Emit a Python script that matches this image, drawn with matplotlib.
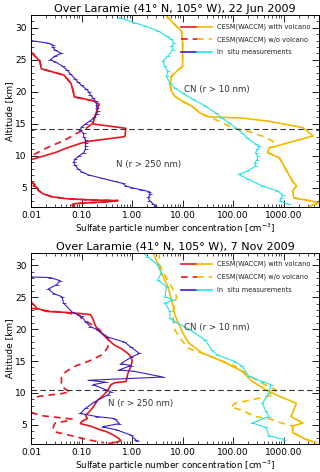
import numpy as np
import matplotlib
matplotlib.use('Agg')
import matplotlib.pyplot as plt
from matplotlib.ticker import LogLocator, MultipleLocator, FixedLocator, NullFormatter

plt.rcParams['font.family'] = ['DejaVu Sans']

RED = '#e8141e'
GOLD = '#f5b800'
BLUE = '#3a1fc8'
CYAN = '#22e3e8'

# ---- 22 Jun 2009 ----
jun_n_obs_alt = [28.0, 27.6, 27.3, 27.0, 26.5, 26.0, 25.6, 25.0, 24.7, 24.0, 23.4, 22.8, 22.0, 21.5, 21.0,
                 20.5, 20.0, 19.5, 19.0, 18.5, 18.0, 17.5, 17.0, 16.5, 16.0, 15.5, 15.0, 14.5, 14.0, 13.5,
                 13.0, 12.5, 12.0, 11.5, 11.0, 10.5, 10.0, 9.5, 9.0, 8.5, 8.0, 7.5, 7.0, 6.5, 6.0, 5.7,
                 5.3, 5.0, 4.7, 4.4, 4.0, 3.5, 3.0, 2.5, 2.2]
jun_n_obs = [0.010, 0.022, 0.027, 0.027, 0.030, 0.040, 0.030, 0.024, 0.030, 0.042, 0.052, 0.060, 0.075, 0.085,
             0.10, 0.12, 0.14, 0.15, 0.17, 0.19, 0.20, 0.20, 0.21, 0.20, 0.18, 0.15, 0.12, 0.10, 0.095, 0.11,
             0.11, 0.12, 0.12, 0.12, 0.12, 0.11, 0.09, 0.075, 0.07, 0.075, 0.085, 0.10, 0.14, 0.25, 0.45,
             0.65, 0.75, 1.0, 1.5, 2.2, 2.3, 2.1, 2.2, 2.6, 2.9]

jun_n_vol_alt = [26.2, 25.3, 24.8, 23.6, 23.0, 22.6, 21.3, 20.2, 19.2, 18.6, 18.1, 17.5, 16.5, 15.2, 15.0,
                 14.3, 13.0, 12.3, 12.0, 11.2, 10.5, 9.4, np.nan,
                 5.9, 5.5, 5.3, 5.1, 4.6, 4.1, 3.6, 3.3, 3.1, 3.0, 2.8, 2.6, 2.5, 2.3, 2.1]
jun_n_vol = [0.010, 0.013, 0.015, 0.016, 0.030, 0.045, 0.062, 0.068, 0.072, 0.17, 0.22, 0.21, 0.19, 0.17,
             0.16, 0.75, 0.72, 0.15, 0.10, 0.05, 0.03, 0.010, np.nan,
             0.010, 0.012, 0.011, 0.013, 0.014, 0.017, 0.026, 0.05, 0.15, 0.52, 0.30, 0.10, 0.07, 0.065, 0.07]

jun_n_novol_alt = [26.2, 25.3, 24.8, 23.6, 23.0, 22.6, 21.3, 20.2, 19.2, 18.6, 18.1, 17.5, 16.5, 15.2, 15.0,
                   14.2, 13.5, 12.4, 11.2, 10.3, 9.8, np.nan,
                   5.9, 5.5, 5.3, 5.1, 4.6, 4.1, 3.6, 3.3, 3.1, 3.0, 2.8, 2.6, 2.5, 2.3, 2.1]
jun_n_novol = [0.010, 0.013, 0.015, 0.016, 0.030, 0.045, 0.062, 0.068, 0.072, 0.17, 0.22, 0.21, 0.19, 0.17,
               0.16, 0.12, 0.08, 0.045, 0.02, 0.012, 0.010, np.nan,
               0.010, 0.012, 0.011, 0.013, 0.014, 0.017, 0.026, 0.05, 0.15, 0.52, 0.30, 0.10, 0.07, 0.065, 0.07]

jun_cn_obs_alt = [31.6, 30.8, 30.3, 29.5, 28.7, 28.2, 27.6, 27.1, 26.6, 25.6, 24.8, 24.0, 23.2, 22.4, 21.4,
                  20.6, 19.8, 18.8, 17.8, 16.7, 15.9, 15.2, 14.4, 13.6, 12.8, 11.8, 11.5, 11.0, 10.5, 9.9,
                  9.4, 8.9, 8.4, 7.6, 7.1, 6.3, 5.3, 4.5, 3.9, 3.4, 2.9, 2.4]
jun_cn_obs = [0.56, 1.1, 1.8, 3.3, 4.8, 6.0, 6.8, 6.0, 6.5, 5.1, 4.1, 4.4, 5.1, 4.8, 5.6,
              7.0, 10, 16, 28, 45, 60, 81, 110, 150, 190, 280, 330, 300, 280, 310,
              300, 270, 280, 190, 130, 200, 380, 750, 950, 900, 850, 1300]

jun_cn_vol_alt = [32.1, 31.3, 30.5, 29.5, 27.7, 24.0, 23.2, 22.4, 21.1, 20.1, 19.3, 18.5, 17.8, 16.7, 16.1,
                  15.9, 15.4, 14.4, 13.1, 11.5, 11.25, 10.5, 9.7, 7.9, 6.0, 5.3, 4.5, 3.4, 2.9, 2.6, 2.1]
jun_cn_vol = [4.5, 5.6, 7.0, 9.5, 10, 10, 7.6, 6.0, 5.6, 6.0, 7.0, 10, 15, 22, 32,
              150, 510, 2400, 3800, 700, 510, 480, 820, 1100, 1500, 1800, 1500, 1600, 3800, 4800, 3200]

jun_cn_novol_alt = [32.1, 31.3, 30.5, 29.5, 27.7, 24.0, 23.2, 22.4, 21.1, 20.1, 19.3, 18.5, 17.8, 16.7, 16.1,
                    15.5, 14.8, 14.2, 13.6, 13.0, 12.3, 11.5, 11.25, 10.5, 9.7, 7.9, 7.0, 6.0, 5.3, 4.5,
                    3.4, 2.9, 2.6, 2.1]
jun_cn_novol = [4.5, 5.6, 7.0, 9.5, 10, 10, 7.6, 6.0, 5.6, 6.0, 7.0, 10, 15, 22, 32,
                50, 75, 120, 250, 400, 600, 700, 510, 480, 820, 1100, 1300, 1500, 1800, 1500,
                1600, 3800, 4800, 3200]

# ---- 7 Nov 2009 ----
nov_n_obs_alt = [28.2, 28.1, 27.6, 27.0, 26.3, 25.6, 25.1, 24.1, 22.7, 22.0, 21.2, 20.4, 19.9, 18.8, 18.0,
                 17.2, 16.2, 15.6, 14.6, 14.3, 13.6, 13.4, 12.5, 12.0, 11.7, 11.3, 10.2, 9.7, 8.6, 7.6,
                 6.8, 6.3, 6.0, 5.2, 4.7, 4.2, 3.4, 2.6, 2.5]
nov_n_obs = [0.010, 0.024, 0.038, 0.032, 0.022, 0.028, 0.041, 0.044, 0.065, 0.10, 0.12, 0.15, 0.21, 0.32, 0.70,
             0.95, 1.4, 0.95, 0.60, 0.95, 0.55, 1.1, 4.1, 0.14, 0.30, 0.17, 0.38, 0.33, 0.18, 0.12,
             0.095, 0.20, 0.45, 0.56, 0.26, 0.50, 0.95, 1.2, 1.25]

nov_n_vol_alt = [24.3, 23.3, 22.8, 22.6, 22.3, 21.5, 20.5, 19.9, 19.0, 18.3, 17.5, 17.0, 16.3, 15.7, 15.0,
                 14.2, 13.0, 12.2, 11.8, 11.6, 11.3, 10.4, 9.5, 8.9, 7.8, 7.0, 6.5, 6.0, 5.5, 5.2,
                 4.8, 4.3, 3.9, 3.3, 2.8, 2.5, 2.3, 2.1]
nov_n_vol = [0.010, 0.013, 0.02, 0.06, 0.15, 0.17, 0.19, 0.21, 0.28, 0.34, 0.45, 0.60, 0.80, 0.95, 1.0,
             0.95, 0.82, 0.78, 0.76, 0.45, 0.38, 0.33, 0.26, 0.21, 0.17, 0.14, 0.12, 0.13, 0.10, 0.095,
             0.15, 0.22, 0.32, 0.45, 0.56, 0.60, 0.50, 0.35]

nov_n_novol_alt = [23.3, 22.9, 22.6, 22.2, 21.7, 21.0, 20.0, 19.0, 18.3, 17.2, 16.5, 15.9, 15.3, 14.9, 14.3,
                   13.6, 13.1, 12.5, 11.5, 11.0, 10.5, 10.2, 9.9, 9.5, 9.1, np.nan,
                   6.9, 6.4, 6.1, 5.9, 5.6, 5.3, 4.8, 4.3, 3.9, 3.5, 3.1, 2.7, 2.4, 2.2]
nov_n_novol = [0.010, 0.02, 0.05, 0.09, 0.10, 0.14, 0.22, 0.30, 0.35, 0.33, 0.29, 0.24, 0.17, 0.13, 0.08,
               0.055, 0.045, 0.04, 0.04, 0.041, 0.05, 0.06, 0.04, 0.015, 0.010, np.nan,
               0.010, 0.018, 0.04, 0.065, 0.05, 0.03, 0.028, 0.027, 0.03, 0.05, 0.08, 0.13, 0.20, 0.28]

nov_cn_obs_alt = [32.1, 31.4, 30.1, 28.8, 27.7, 26.7, 25.1, 24.6, 24.1, 22.8, 21.7, 21.2, 19.9, 18.3, 16.7,
                  16.0, 14.9, 14.2, 12.6, 11.8, 11.3, 10.0, 8.4, 7.1, 6.3, 5.3, 4.6, 3.3, 2.7]
nov_cn_obs = [1.6, 2.0, 3.2, 3.8, 3.2, 4.8, 4.5, 6.5, 4.5, 5.6, 5.6, 7.0, 14, 28, 38,
              48, 110, 150, 205, 380, 560, 510, 380, 445, 510, 240, 445, 510, 1030]

nov_cn_vol_alt = [32.1, 30.3, 28.8, 26.7, 24.6, 23.6, 22.3, 21.0, 19.5, 17.9, 16.3, 15.0, 13.4, 11.8, 10.5,
                  9.5, 8.4, 6.3, 5.3, 4.8, 3.8, 2.7, 2.2]
nov_cn_vol = [2.6, 3.2, 3.8, 5.1, 6.0, 6.5, 7.0, 8.2, 10, 13, 24, 60, 150, 240, 445,
              810, 1780, 1400, 2400, 1500, 1500, 2800, 4500]

nov_cn_novol_alt = [32.1, 30.3, 28.8, 26.7, 25.1, 24.1, 23.0, 21.5, 19.9, 18.3, 17.0, 16.2, 15.4, 14.2, 12.8,
                    11.5, 10.5, 10.0, 9.5, 9.0, 8.4, 7.8, 7.3, 6.8, 6.3, 5.8, 5.3, 4.8, 3.8, 2.7, 2.2]
nov_cn_novol = [3.5, 3.4, 4.2, 6.0, 7.6, 7.0, 6.5, 6.5, 7.0, 9.5, 13, 25, 45, 110, 200,
                380, 700, 650, 510, 250, 110, 90, 150, 200, 280, 600, 900, 1500, 1500, 2800, 4500]

panels = [
    dict(title='Over Laramie (41° N, 105° W), 22 Jun 2009', trop=14.2,
         n_obs=(jun_n_obs, jun_n_obs_alt), n_vol=(jun_n_vol, jun_n_vol_alt), n_novol=(jun_n_novol, jun_n_novol_alt),
         cn_obs=(jun_cn_obs, jun_cn_obs_alt), cn_vol=(jun_cn_vol, jun_cn_vol_alt), cn_novol=(jun_cn_novol, jun_cn_novol_alt),
         n_pos=(0.48, 8.6)),
    dict(title='Over Laramie (41° N, 105° W), 7 Nov 2009', trop=10.4,
         n_obs=(nov_n_obs, nov_n_obs_alt), n_vol=(nov_n_vol, nov_n_vol_alt), n_novol=(nov_n_novol, nov_n_novol_alt),
         cn_obs=(nov_cn_obs, nov_cn_obs_alt), cn_vol=(nov_cn_vol, nov_cn_vol_alt), cn_novol=(nov_cn_novol, nov_cn_novol_alt),
         n_pos=(0.33, 8.4)),
]

fig = plt.figure(figsize=(3.2, 4.72), dpi=100)
boxes = [[0.0969, 0.5614, 0.9, 0.4068], [0.0969, 0.0593, 0.9, 0.4053]]

for p, box in zip(panels, boxes):
    ax = fig.add_axes(box)
    ax.set_xscale('log')
    ax.set_xlim(0.01, 5000)
    ax.set_ylim(2, 32)

    ax.plot(*p['n_novol'], color=RED, lw=1.2, ls=(0, (4, 3)))
    ax.plot(*p['cn_novol'], color=GOLD, lw=1.2, ls=(0, (4, 3)))
    ax.plot(*p['n_vol'], color=RED, lw=1.2)
    ax.plot(*p['cn_vol'], color=GOLD, lw=1.2)
    ax.plot(*p['n_obs'], color=BLUE, lw=0.8, marker='_', ms=3, mew=0.6)
    ax.plot(*p['cn_obs'], color=CYAN, lw=0.8, marker='_', ms=3, mew=0.6)

    ax.axhline(p['trop'], color='#333333', lw=0.8, ls=(0, (5, 3)))

    # legend drawn by hand: two-colour line segments
    for yy, ls, c1, c2, lab in [(30.2, '-', RED, GOLD, 'CESM(WACCM) with volcano'),
                                (28.2, (0, (4, 3)), RED, GOLD, 'CESM(WACCM) w/o volcano'),
                                (26.2, '-', BLUE, CYAN, 'In  situ measurements')]:
        ax.plot([9.5, 19], [yy, yy], color=c1, lw=1.2, ls=ls)
        ax.plot([19, 38], [yy, yy], color=c2, lw=1.2, ls=ls)
        ax.text(48, yy, lab, fontsize=4.8, va='center', ha='left', color='#222222')

    ax.text(10.5, 20.3, 'CN (r > 10 nm)', fontsize=6.2, va='center', ha='left', color='#333333')
    ax.text(p['n_pos'][0], p['n_pos'][1], 'N (r > 250 nm)', fontsize=6.2, va='center', ha='left', color='#333333')

    ax.xaxis.set_major_locator(FixedLocator([0.01, 0.1, 1, 10, 100, 1000]))
    ax.set_xticklabels(['0.01', '0.10', '1.00', '10.00', '100.00', '1000.00'])
    ax.xaxis.set_minor_locator(LogLocator(base=10, subs=np.arange(2, 10)))
    ax.xaxis.set_minor_formatter(NullFormatter())
    ax.yaxis.set_major_locator(MultipleLocator(5))
    ax.yaxis.set_minor_locator(MultipleLocator(1))
    ax.tick_params(which='both', direction='in', top=True, right=True, labelsize=6.5, pad=3)
    ax.tick_params(which='major', length=5, width=0.6)
    ax.tick_params(which='minor', length=2.5, width=0.5)
    for s in ax.spines.values():
        s.set_linewidth(0.7)

    ax.set_title(p['title'], fontsize=8, pad=2.5)
    ax.set_xlabel(r'Sulfate particle number concentration [cm$^{-3}$]', fontsize=6.3, labelpad=1)
    ax.set_ylabel('Altitude [km]', fontsize=6.5, labelpad=1)

fig.savefig('out.png', dpi=100)
